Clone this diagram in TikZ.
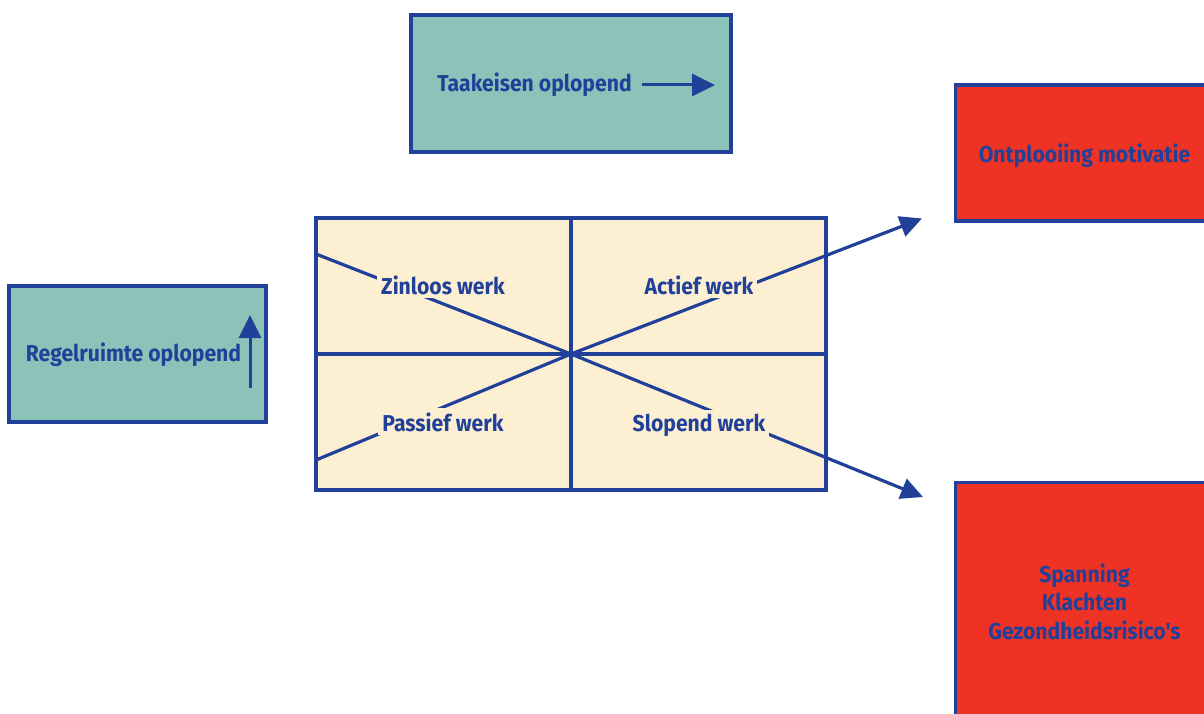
\documentclass[tikz,border=0pt]{standalone}
\usepackage{fontspec}
\usetikzlibrary{arrows.meta}
\newfontfamily\lblfont[FakeStretch=0.92]{Fira Sans}

\definecolor{inkblue}{HTML}{21409A}
\definecolor{tealfill}{HTML}{8CC3B9}
\definecolor{creamfill}{HTML}{FDEFD2}
\definecolor{redfill}{HTML}{EE3224}

\begin{document}
\begin{tikzpicture}[x=1pt,y=-1pt,
  every node/.style={font=\lblfont\bfseries\fontsize{23}{28.5}\selectfont, text=inkblue},
  framebox/.style={draw=inkblue, line width=3.8pt, inner sep=0pt},
  tealbox/.style={framebox, fill=tealfill},
  redbox/.style={framebox, fill=redfill},
  gridbox/.style={framebox, fill=creamfill},
  quadlabel/.style={fill=creamfill, inner sep=4pt, anchor=base},
  plain/.style={inner sep=0pt, anchor=base, align=center},
  bigarrow/.style={draw=inkblue, line width=3pt, -{Triangle[length=23pt,width=22pt]}},
  diagline/.style={draw=inkblue, line width=3.2pt},
  diagarrow/.style={diagline, -{Triangle[length=22pt,width=21pt]}}
]
\useasboundingbox (0,0) rectangle (1204,714);
\clip (0,0) rectangle (1204,714);

% top box: task demands rising
\node[tealbox, minimum width=320pt, minimum height=137pt] (taak) at (571,83.5) {};
\node[plain] (taaktxt) at (534.5,92) {Taakeisen oplopend};
\coordinate (taakA) at (642,85);
\coordinate (taakB) at (715,85);
\draw[bigarrow] (taakA) -- (taakB);

% left box: decision latitude rising
\node[tealbox, minimum width=257pt, minimum height=136pt] (regel) at (137.5,354) {};
\node[plain] (regeltxt) at (133.5,361.5) {Regelruimte oplopend};
\coordinate (regelA) at (250,388);
\coordinate (regelB) at (250,315);
\draw[bigarrow] (regelA) -- (regelB);

% four-quadrant grid
\node[gridbox, minimum width=510pt, minimum height=272pt] (grid) at (571,354) {};
\draw[inkblue, line width=3.8pt] (grid.north) -- (grid.south);
\draw[inkblue, line width=3.8pt] (grid.west) -- (grid.east);

% outcome boxes
\node[redbox, minimum width=258pt, minimum height=136pt] (ontpl) at (1084.5,153) {};
\node[plain] (ontpltxt) at (1084.5,162.5) {Ontplooiing motivatie};
\node[redbox, minimum width=258pt, minimum height=237pt] (spanning) at (1084.5,601) {};
\node[plain] (spanningtxt) at (1084.5,639) {Spanning\\Klachten\\Gezondheidsrisico's};

% diagonals through the centre
\coordinate (mid) at (grid.center);
\coordinate (ulstart) at (316,254);
\coordinate (llstart) at (316,460);
\coordinate (tipU) at (922,218.5);
\coordinate (tipL) at (923,497);
\draw[diagline] (ulstart) -- (mid);
\draw[diagline] (llstart) -- (mid);
\draw[diagarrow] (mid) -- (tipU);
\draw[diagarrow] (mid) -- (tipL);

% quadrant labels
\node[quadlabel] (zinloos) at (443,294) {Zinloos werk};
\node[quadlabel] (actief) at (699,294) {Actief werk};
\node[quadlabel] (passief) at (443,431) {Passief werk};
\node[quadlabel] (slopend) at (699,431) {Slopend werk};
\end{tikzpicture}
\end{document}
